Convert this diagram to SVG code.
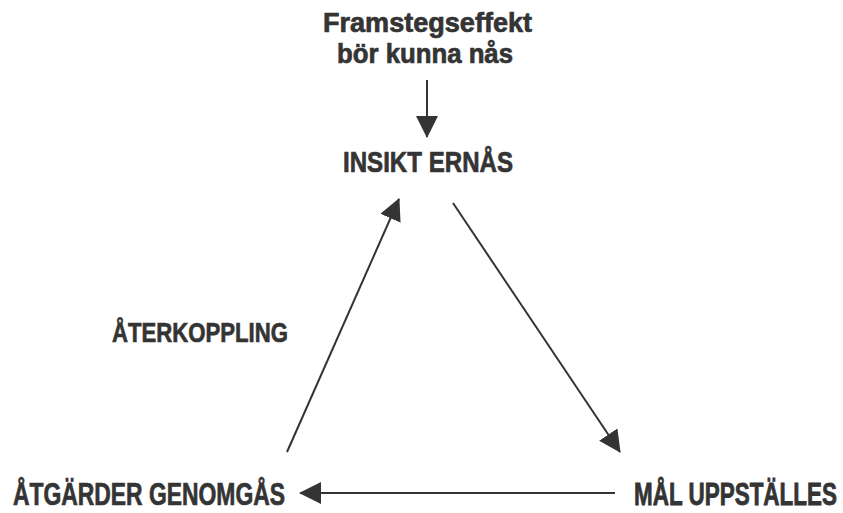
<svg xmlns="http://www.w3.org/2000/svg" width="843" height="513" viewBox="0 0 843 513">
  <style>
    .lbl { font-family: "Liberation Sans", Arial, sans-serif; font-weight: bold; fill: #343434; stroke: #343434; stroke-width: 0.7; }
    .edge { stroke: #343434; stroke-width: 2; fill: none; marker-end: url(#head); }
  </style>
  <defs>
    <marker id="head" markerUnits="userSpaceOnUse" viewBox="0 0 22 22" refX="21" refY="11" markerWidth="22" markerHeight="22" orient="auto">
      <path d="M0,0 L22,11 L0,22 Z" fill="#343434"/>
    </marker>
  </defs>
  <rect width="843" height="513" fill="#ffffff"/>

  <g id="connectors">
    <line class="edge" x1="427" y1="80" x2="427" y2="137"/>
    <line class="edge" x1="453" y1="203" x2="620" y2="452"/>
    <line class="edge" x1="615" y1="493" x2="300" y2="493"/>
    <line class="edge" x1="287" y1="452" x2="399" y2="199"/>
  </g>

  <g id="start">
    <text class="lbl" x="323" y="32" font-size="27" textLength="209" lengthAdjust="spacingAndGlyphs">Framstegseffekt</text>
    <text class="lbl" x="337" y="63" font-size="27" textLength="176" lengthAdjust="spacingAndGlyphs">bör kunna nås</text>
  </g>

  <g id="insikt">
    <text class="lbl" x="343" y="172" font-size="30" textLength="170" lengthAdjust="spacingAndGlyphs">INSIKT ERNÅS</text>
  </g>

  <g id="mal">
    <!-- narrow face: smaller size stretched vertically -->
    <text class="lbl" transform="translate(634 505) scale(1 1.38)" x="0" y="0" font-size="22.4" textLength="203" lengthAdjust="spacingAndGlyphs" vector-effect="non-scaling-stroke">MÅL UPPSTÄLLES</text>
  </g>

  <g id="atgarder">
    <text class="lbl" x="13" y="505" font-size="31" textLength="272" lengthAdjust="spacingAndGlyphs">ÅTGÄRDER  GENOMGÅS</text>
  </g>

  <g id="aterkoppling">
    <text class="lbl" x="112" y="342" font-size="28" textLength="176" lengthAdjust="spacingAndGlyphs">ÅTERKOPPLING</text>
  </g>
</svg>
